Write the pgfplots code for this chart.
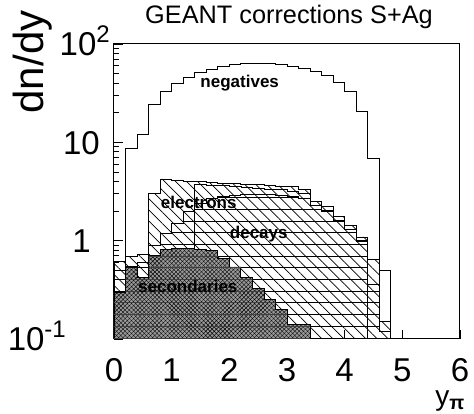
\documentclass[border=0pt]{standalone}
\usepackage{pgfplots}
\pgfplotsset{compat=1.18}
\usepackage{fontspec}
\setmainfont{Liberation Sans}
\usetikzlibrary{patterns,patterns.meta}
\newcommand{\sexp}[1]{\raisebox{0.42em}{\fontsize{24}{24}\selectfont #1}}
\pgfdeclarepatternformonly{hlines}{\pgfpoint{-1pt}{-1pt}}{\pgfpoint{12.7pt}{12.7pt}}{\pgfpoint{11.7pt}{11.7pt}}{%
  \pgfsetlinewidth{0.8pt}%
  \pgfpathmoveto{\pgfpoint{-1pt}{5.85pt}}\pgfpathlineto{\pgfpoint{12.7pt}{5.85pt}}\pgfusepath{stroke}}
\begin{document}
\begin{tikzpicture}[x=1pt,y=1pt]
\path[use as bounding box] (0,0) rectangle (474,414);
\begin{axis}[
  at={(114pt,75pt)}, anchor=south west,
  scale only axis, width=346pt, height=295pt,
  xmin=0, xmax=6, ymode=log, ymin=0.1, ymax=100,
  axis line style={line width=1pt},
  tick align=inside, xtick pos=bottom, ytick pos=left,
  major tick length=9pt, minor tick length=5pt,
  tick style={black, line width=0.8pt},
  xtick={0,1,2,3,4,5,6},
  ytick={0.1,1,10,100},
  yticklabels={{10\sexp{-1}\hspace*{44pt}},{1\hspace*{19pt}},{10\hspace*{10pt}},{10\sexp{2}}},
  tick label style={font=\fontsize{33}{33}\selectfont},
  yticklabel style={anchor=base east, inner sep=0pt, xshift=-4pt, yshift=-12pt},
  xticklabel style={anchor=base, inner sep=0pt, yshift=-43pt},
  /pgf/number format/assume math mode=true,
  clip=true,
]
% negatives
\addplot[const plot mark right, black, line width=0.9pt] coordinates {
(0.2,0.001)(0.4,8.7)(0.6,12.1)(0.8,24.5)(1.0,33.2)(1.2,39.8)(1.4,45.8)(1.6,51)(1.8,55.2)(2.0,58.7)(2.2,61.6)(2.4,63)(2.6,63.7)(2.8,62.7)(3.0,61.6)(3.2,59.7)(3.4,57)(3.6,53)(3.8,48.4)(4.0,40.8)(4.2,32.7)(4.4,20.5)(4.6,6.9)(4.8,0.5)(4.8,0.001)};
% electrons
\addplot[const plot mark right, black, line width=0.8pt, pattern={Lines[angle=-45,distance=7.8pt,line width=0.7pt]}] coordinates {
(0.0,0.001)(0.2,0.62)(0.4,0.69)(0.6,0.73)(0.8,3.03)(1.0,4.24)(1.2,4.1)(1.4,4.0)(1.6,3.98)(1.8,3.9)(2.0,3.85)(2.2,3.8)(2.4,3.75)(2.6,3.7)(2.8,3.65)(3.0,3.6)(3.2,3.53)(3.4,3.3)(3.6,2.5)(3.8,2.22)(4.0,1.75)(4.2,1.44)(4.4,1.09)(4.6,0.64)(4.8,0.15)(4.8,0.001)} -- cycle;
% second electron line
\addplot[const plot mark right, black, line width=0.7pt] coordinates {
(1.4,0.001)(1.6,3.75)(1.8,3.68)(2.0,3.62)(2.2,3.56)(2.4,3.5)(2.6,3.42)(2.8,3.35)(3.0,3.3)(3.2,3.2)(3.4,3.0)(3.6,2.3)(3.8,2.05)(4.0,1.62)(4.2,1.3)(4.4,0.98)(4.6,0.001)};
% decays
\addplot[const plot mark right, black, line width=0.8pt, pattern=hlines, pattern color=black] coordinates {
(0.0,0.001)(0.2,0.5)(0.4,0.55)(0.6,0.6)(0.8,0.9)(1.0,1.19)(1.2,1.5)(1.4,1.97)(1.6,2.4)(1.8,2.7)(2.0,2.85)(2.2,2.9)(2.4,2.95)(2.6,2.95)(2.8,2.95)(3.0,2.9)(3.2,2.85)(3.4,2.7)(3.6,2.3)(3.8,1.97)(4.0,1.62)(4.2,1.3)(4.4,1.0)(4.6,0.36)(4.8,0.12)(4.8,0.001)} -- cycle;
% secondaries
\addplot[const plot mark right, black, line width=0.8pt, fill=black!40,
  postaction={pattern={Lines[angle=45,distance=3pt,line width=0.4pt]}, pattern color=black},
  postaction={pattern={Lines[angle=-45,distance=3pt,line width=0.4pt]}, pattern color=black}] coordinates {
(0.0,0.001)(0.2,0.30)(0.4,0.53)(0.6,0.42)(0.8,0.71)(1.0,0.81)(1.2,0.83)(1.4,0.83)(1.6,0.81)(1.8,0.79)(2.0,0.66)(2.2,0.54)(2.4,0.42)(2.6,0.33)(2.8,0.25)(3.0,0.20)(3.2,0.14)(3.4,0.14)(3.4,0.001)} -- cycle;
% horizontal hatch over secondaries
\addplot[const plot mark right, draw=none, pattern=hlines, pattern color=black!75] coordinates {
(0.0,0.001)(0.2,0.30)(0.4,0.53)(0.6,0.42)(0.8,0.71)(1.0,0.81)(1.2,0.83)(1.4,0.83)(1.6,0.81)(1.8,0.79)(2.0,0.66)(2.2,0.54)(2.4,0.42)(2.6,0.33)(2.8,0.25)(3.0,0.20)(3.2,0.14)(3.4,0.14)(3.4,0.001)} -- cycle;
\node[font=\fontsize{17}{17}\selectfont\bfseries] at (axis cs:2.18,40) {negatives};
\node[font=\fontsize{17}{17}\selectfont\bfseries] at (axis cs:1.47,2.42) {electrons};
\node[font=\fontsize{17}{17}\selectfont\bfseries] at (axis cs:2.51,1.17) {decays};
\node[font=\fontsize{17}{17}\selectfont\bfseries] at (axis cs:1.28,0.34) {secondaries};
\end{axis}
\node[font=\fontsize{25.3}{25.3}\selectfont, anchor=base, inner sep=0pt] at (289,390) {GEANT corrections S+Ag};
\node[font=\fontsize{42}{42}\selectfont, rotate=90, anchor=center, inner sep=0pt] at (33,352) {dn/dy};
\node[font=\fontsize{28}{28}\selectfont, anchor=base, inner sep=0pt] at (450,8) {y\textsubscript{\textbf{π}}};
\end{tikzpicture}
\end{document}
